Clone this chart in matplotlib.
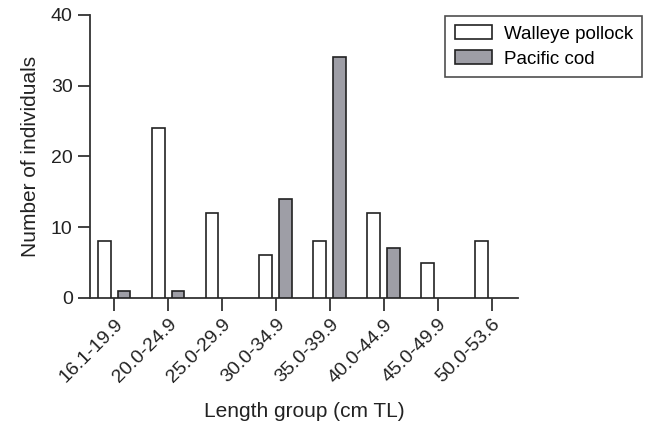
import numpy as np
import matplotlib.pyplot as plt

plt.rcParams['font.family'] = ['Liberation Sans', 'DejaVu Sans']

# length groups and counts
groups = ['16.1-19.9', '20.0-24.9', '25.0-29.9', '30.0-34.9',
          '35.0-39.9', '40.0-44.9', '45.0-49.9', '50.0-53.6']
walleye = [8, 24, 12, 6, 8, 12, 5, 8]
cod = [1, 1, 0, 14, 34, 7, 0, 0]

x = np.arange(len(groups))
w = 0.24
off = 0.185

fig = plt.figure(figsize=(6.48, 4.28), dpi=100)
ax = fig.add_axes([0.139, 0.304, 0.66, 0.661])

ax.bar(x - off, walleye, w, color='white', edgecolor='#222222', linewidth=1.2,
       label='Walleye pollock', zorder=3)
# empty cod groups are not drawn
cx = [xi + off for xi, v in zip(x, cod) if v > 0]
cv = [v for v in cod if v > 0]
ax.bar(cx, cv, w, color='#9e9ea6', edgecolor='#222222', linewidth=1.2,
       label='Pacific cod', zorder=3)

ax.set_xlim(-0.444, 7.48)
ax.set_ylim(0, 40)
ax.set_yticks([0, 10, 20, 30, 40])
ax.set_xticks(x)
ax.set_xticklabels(groups, rotation=45, ha='right', rotation_mode='anchor')

for s in ['top', 'right']:
    ax.spines[s].set_visible(False)
for s in ['left', 'bottom']:
    ax.spines[s].set_linewidth(1.3)
    ax.spines[s].set_color('#333333')
ax.tick_params(axis='both', direction='out', length=9, width=1.3,
               color='#333333', labelsize=14, labelcolor='#222222')
ax.tick_params(axis='x', pad=4)

ax.set_ylabel('Number of individuals', fontsize=15, color='#222222', labelpad=8)
ax.set_xlabel('Length group (cm TL)', fontsize=15, color='#222222', labelpad=11)

leg = ax.legend(loc='upper right', bbox_to_anchor=(0.991, 0.963),
                bbox_transform=fig.transFigure, fontsize=13.5, frameon=True,
                fancybox=False, edgecolor='#222222', handlelength=2.0,
                handleheight=0.75, borderpad=0.5, labelspacing=0.4,
                borderaxespad=0, handletextpad=0.6)
leg.get_frame().set_linewidth(1.2)

fig.savefig('out.png', dpi=100)
